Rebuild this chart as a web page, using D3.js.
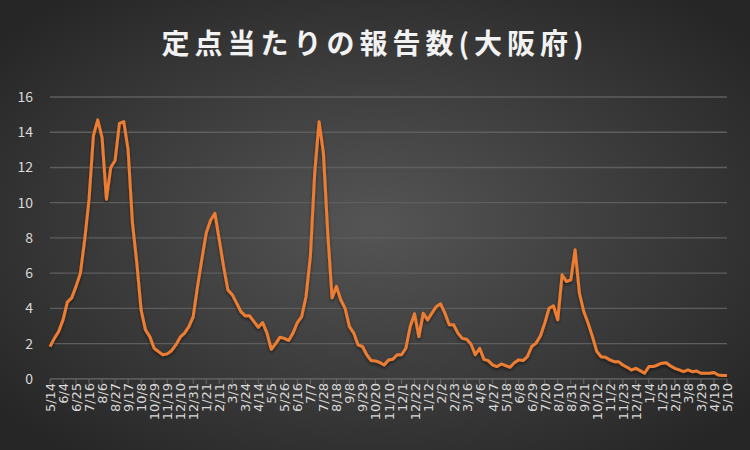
<!DOCTYPE html>
<html>
<head>
<meta charset="utf-8">
<script src="https://cdn.jsdelivr.net/npm/d3@7"></script>
<style>
  body { margin: 0; background: #262626; }
  svg { display: block; font-family: "Noto Sans CJK JP", "Noto Sans", sans-serif; }
</style>
</head>
<body>
<svg id="chart" width="750" height="450"></svg>
<script>
// weekly reports, Osaka, starting 5/14
const values = [
  1.83, 2.3, 2.69, 3.35, 4.36, 4.6, 5.25, 6.0, 7.9, 10.2,
  13.8, 14.7, 13.7, 10.2, 12.0, 12.4, 14.5, 14.6, 13.0, 8.85,
  6.6, 3.9, 2.78, 2.4, 1.74, 1.55, 1.37, 1.42, 1.6, 1.93,
  2.37, 2.6, 2.97, 3.54, 5.25, 6.8, 8.28, 9.0, 9.4, 7.9,
  6.38, 5.05, 4.78, 4.3, 3.82, 3.58, 3.58, 3.25, 2.93, 3.2,
  2.6, 1.68, 2.0, 2.37, 2.3, 2.18, 2.6, 3.2, 3.54, 4.68,
  6.95, 11.7, 14.6, 12.83, 8.28, 4.6, 5.25, 4.49, 4.0, 2.97,
  2.6, 1.93, 1.84, 1.37, 1.04, 1.02, 0.93, 0.79, 1.07, 1.11,
  1.37, 1.37, 1.74, 2.97, 3.7, 2.4, 3.73, 3.35, 3.73, 4.1,
  4.26, 3.73, 3.07, 3.07, 2.6, 2.3, 2.25, 1.98, 1.37, 1.74,
  1.11, 1.04, 0.79, 0.7, 0.85, 0.75, 0.66, 0.92, 1.08, 1.04,
  1.26, 1.84, 2.03, 2.44, 3.16, 4.01, 4.15, 3.35, 5.91, 5.53,
  5.62, 7.33, 4.86, 3.82, 3.16, 2.4, 1.55, 1.26, 1.23, 1.08,
  0.98, 0.98, 0.79, 0.66, 0.51, 0.6, 0.47, 0.32, 0.7, 0.7,
  0.79, 0.89, 0.92, 0.73, 0.6, 0.51, 0.41, 0.51, 0.41, 0.45,
  0.32, 0.32, 0.32, 0.36, 0.22, 0.19, 0.19
];

// one label every 3 weeks
const tickLabels = [
  "5/14", "6/4", "6/25", "7/16", "8/6", "8/27", "9/17", "10/8", "10/29", "11/19",
  "12/10", "12/31", "1/21", "2/11", "3/3", "3/24", "4/14", "5/5", "5/26", "6/16",
  "7/7", "7/28", "8/18", "9/8", "9/29", "10/20", "11/10", "12/1", "12/22", "1/12",
  "2/2", "2/23", "3/16", "4/6", "4/27", "5/18", "6/8", "6/29", "7/20", "8/10",
  "8/31", "9/21", "10/12", "11/2", "11/23", "12/14", "1/4", "1/25", "2/15", "3/8",
  "3/29", "4/19", "5/10"
];
const yTicks = [0, 2, 4, 6, 8, 10, 12, 14, 16];

const title = "定点当たりの報告数(大阪府)";

const svg = d3.select("#chart");
const W = 750, H = 450;
const margin = { left: 50, right: 23, top: 97, bottom: 72 };

// dark radial background
const defs = svg.append("defs");
const grad = defs.append("radialGradient").attr("id", "bg")
  .attr("cx", "50%").attr("cy", "50%").attr("r", "65%");
grad.append("stop").attr("offset", "0%").attr("stop-color", "#555555");
grad.append("stop").attr("offset", "100%").attr("stop-color", "#262626");
svg.append("rect").attr("width", W).attr("height", H).attr("fill", "url(#bg)");

const shadow = defs.append("filter").attr("id", "shadow")
  .attr("x", "-5%").attr("y", "-5%").attr("width", "110%").attr("height", "120%");
shadow.append("feDropShadow").attr("dx", 0).attr("dy", 2).attr("stdDeviation", 1.5)
  .attr("flood-color", "#000").attr("flood-opacity", 0.5);

const x = d3.scaleLinear()
  .domain([0, values.length - 1])
  .range([margin.left, W - margin.right]);
const y = d3.scaleLinear()
  .domain([0, 16])
  .range([H - margin.bottom + 0.9, margin.top]);

// gridlines
svg.append("g").selectAll("line").data(yTicks.slice(1)).join("line")
  .attr("x1", margin.left).attr("x2", W - margin.right)
  .attr("y1", (d) => y(d)).attr("y2", (d) => y(d))
  .attr("stroke", "#5e5e5e").attr("stroke-width", 1.3);

// y axis labels
svg.append("g").selectAll("text").data(yTicks).join("text")
  .attr("x", 33).attr("y", (d) => y(d) + 5)
  .attr("text-anchor", "end").attr("fill", "#d9d9d9")
  .attr("font-size", 14).text((d) => d);

// x axis line + ticks
const y0 = y(0);
svg.append("line").attr("x1", margin.left).attr("x2", W - margin.right)
  .attr("y1", y0).attr("y2", y0).attr("stroke", "#6a6a6a").attr("stroke-width", 1.3);

const xt = svg.append("g").selectAll("g").data(tickLabels).join("g")
  .attr("transform", (d, i) => `translate(${x(i * 3)},${y0})`);
xt.append("line").attr("y1", 0).attr("y2", 5).attr("stroke", "#6a6a6a");
xt.append("text")
  .attr("transform", "rotate(-90)")
  .attr("x", -4).attr("y", 5)
  .attr("text-anchor", "end").attr("fill", "#d9d9d9")
  .attr("font-family", "DejaVu Sans, sans-serif")
  .attr("font-size", 13).text((d) => d);

// line
const line = d3.line().x((d, i) => x(i)).y((d) => y(d));
svg.append("path").datum(values)
  .attr("d", line)
  .attr("fill", "none").attr("stroke", "#ED7D31")
  .attr("stroke-width", 3).attr("stroke-linejoin", "round")
  .attr("filter", "url(#shadow)");

// title
svg.append("text").attr("x", W / 2).attr("y", 54)
  .attr("text-anchor", "middle").attr("fill", "#f2f2f2")
  .attr("font-size", 28).attr("font-weight", "bold")
  .attr("letter-spacing", 5).text(title);
</script>
</body>
</html>
